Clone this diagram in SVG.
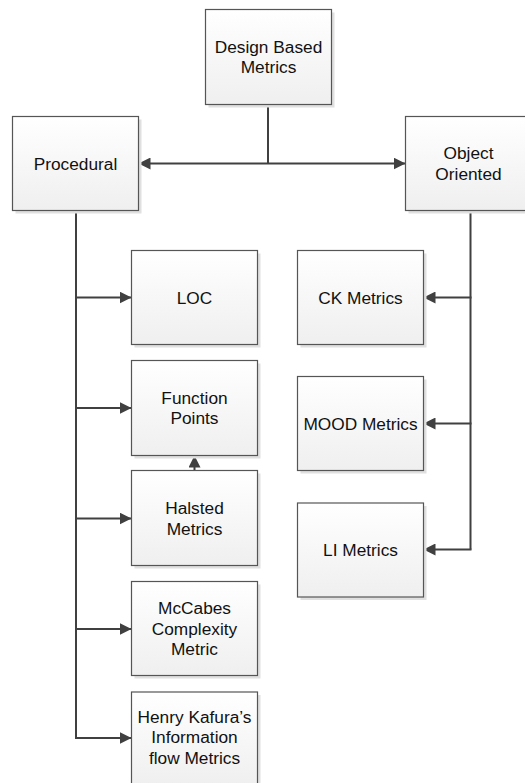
<svg xmlns="http://www.w3.org/2000/svg" width="525" height="783" viewBox="0 0 525 783">
<defs>
<linearGradient id="g" x1="0" y1="0" x2="0" y2="1">
<stop offset="0" stop-color="#ffffff"/>
<stop offset="1" stop-color="#efefef"/>
</linearGradient>
<marker id="ah" viewBox="0 0 12 12" refX="12" refY="6" markerWidth="12" markerHeight="12" markerUnits="userSpaceOnUse" orient="auto">
<path d="M0,0 L12,6 L0,12 z" fill="#404040"/>
</marker>
<style>
.sh{fill:#e0e0e0}
.bx{fill:url(#g);stroke:#555555;stroke-width:1.2}
text{font-family:"Liberation Sans",Arial,sans-serif;font-size:17.3px;fill:#111111;text-anchor:middle}
.ln{fill:none;stroke:#404040;stroke-width:2}
.ar{fill:none;stroke:#404040;stroke-width:2;marker-end:url(#ah)}
</style>
</defs>
<rect width="525" height="783" fill="#ffffff"/>
<g id="connectors">
<path class="ln" d="M268,104.5 V163.5"/>
<path class="ar" d="M268,163.5 H138.5"/>
<path class="ar" d="M268,163.5 H405.5"/>
<path class="ln" d="M76,210.5 V738"/>
<path class="ar" d="M75,297.5 H131.5"/>
<path class="ar" d="M75,408 H131.5"/>
<path class="ar" d="M75,518.5 H131.5"/>
<path class="ar" d="M75,629 H131.5"/>
<path class="ar" d="M75,738 H131.5"/>
<path class="ar" d="M194.5,470.5 V455.5"/>
<path class="ln" d="M470.5,210.5 V549.5"/>
<path class="ar" d="M471.5,297.5 H423.5"/>
<path class="ar" d="M471.5,423.5 H423.5"/>
<path class="ar" d="M471.5,549.5 H423.5"/>
</g>
<g id="design">
<rect class="sh" x="208.5" y="12.5" width="126" height="95"/>
<rect class="bx" x="205.5" y="9.5" width="126" height="95"/>
<text x="268.5" y="52.5">Design Based</text>
<text x="268.5" y="73">Metrics</text>
</g>
<g id="procedural">
<rect class="sh" x="15.5" y="119.5" width="126" height="94"/>
<rect class="bx" x="12.5" y="116.5" width="126" height="94"/>
<text x="75.5" y="169.5">Procedural</text>
</g>
<g id="object">
<rect class="sh" x="408.5" y="119.5" width="126" height="94"/>
<rect class="bx" x="405.5" y="116.5" width="126" height="94"/>
<text x="468.5" y="159">Object</text>
<text x="468.5" y="179.5">Oriented</text>
</g>
<g id="loc">
<rect class="sh" x="134.5" y="253.5" width="126" height="94"/>
<rect class="bx" x="131.5" y="250.5" width="126" height="94"/>
<text x="194.5" y="303.5">LOC</text>
</g>
<g id="fp">
<rect class="sh" x="134.5" y="363.5" width="126" height="95"/>
<rect class="bx" x="131.5" y="360.5" width="126" height="95"/>
<text x="194.5" y="403.75">Function</text>
<text x="194.5" y="424.25">Points</text>
</g>
<g id="halsted">
<rect class="sh" x="134.5" y="473.5" width="126" height="95"/>
<rect class="bx" x="131.5" y="470.5" width="126" height="95"/>
<text x="194.5" y="514">Halsted</text>
<text x="194.5" y="534.5">Metrics</text>
</g>
<g id="mccabes">
<rect class="sh" x="134.5" y="584.5" width="126" height="94"/>
<rect class="bx" x="131.5" y="581.5" width="126" height="94"/>
<text x="194.5" y="614">McCabes</text>
<text x="194.5" y="634.5">Complexity</text>
<text x="194.5" y="655">Metric</text>
</g>
<g id="henry">
<rect class="sh" x="134.5" y="695" width="126" height="95"/>
<rect class="bx" x="131.5" y="692" width="126" height="95"/>
<text x="194.5" y="722.5">Henry Kafura’s</text>
<text x="194.5" y="743">Information</text>
<text x="194.5" y="763.5">flow Metrics</text>
</g>
<g id="ck">
<rect class="sh" x="300.5" y="253.5" width="126" height="94"/>
<rect class="bx" x="297.5" y="250.5" width="126" height="94"/>
<text x="360.5" y="303.5">CK Metrics</text>
</g>
<g id="mood">
<rect class="sh" x="300.5" y="379.5" width="126" height="94"/>
<rect class="bx" x="297.5" y="376.5" width="126" height="94"/>
<text x="360.5" y="429.5">MOOD Metrics</text>
</g>
<g id="li">
<rect class="sh" x="300.5" y="506" width="126" height="94"/>
<rect class="bx" x="297.5" y="503" width="126" height="94"/>
<text x="360.5" y="556">LI Metrics</text>
</g>
</svg>
